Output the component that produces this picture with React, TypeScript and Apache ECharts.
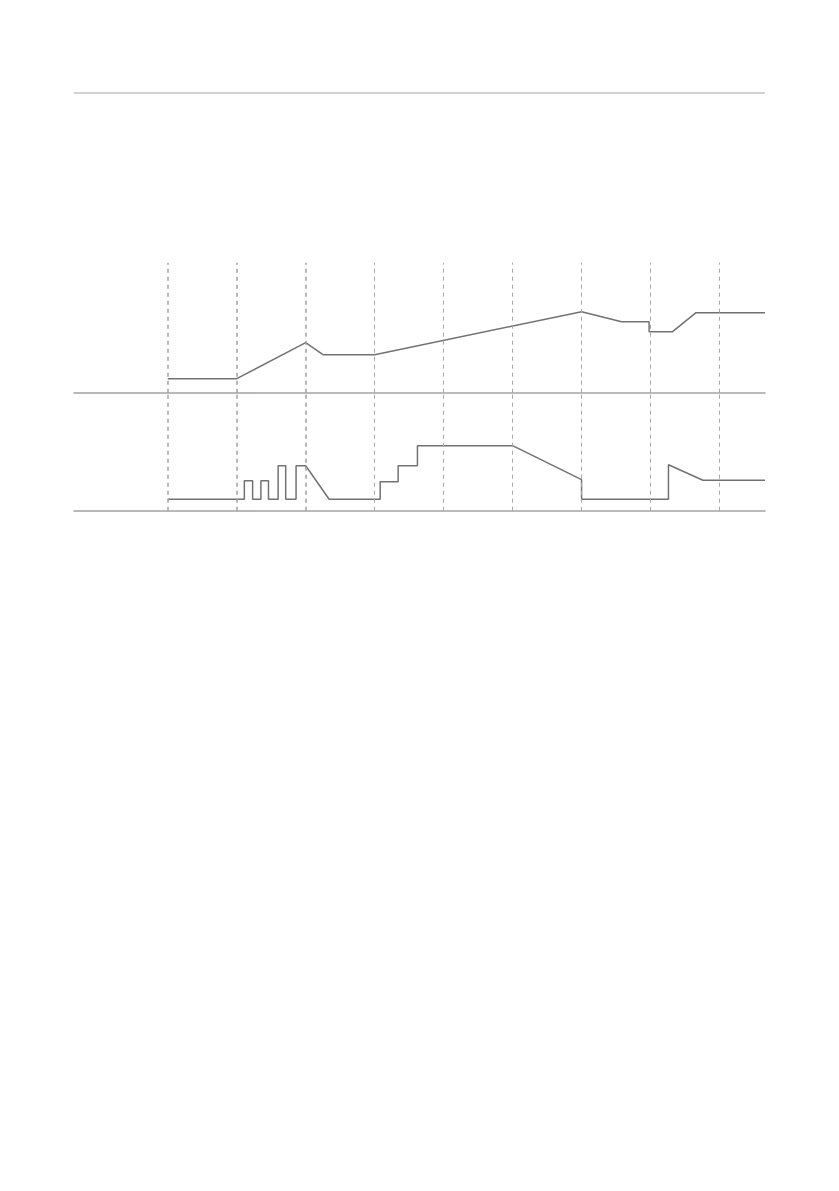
import { useEffect, useRef } from "react";
import * as echarts from "echarts";

// time axis: dashed guides sit at whole units 1..9
const guideTimes = [1, 2, 3, 4, 5, 6, 7, 8, 9];
const xMin = -0.36;
const xMax = 9.66;

// upper trace [time, level]
const upperTrace: [number, number][] = [
  [1.0, 14],
  [2.0, 14],
  [3.0, 50],
  [3.25, 38],
  [4.0, 38],
  [7.0, 81],
  [7.58, 71],
  [7.98, 71],
  [7.98, 61],
  [8.32, 61],
  [8.66, 80],
  [9.66, 80],
];

// lower trace [time, level]
const lowerTrace: [number, number][] = [
  [1.0, 11.5],
  [2.11, 11.5],
  [2.11, 30],
  [2.23, 30],
  [2.23, 11.5],
  [2.35, 11.5],
  [2.35, 30],
  [2.46, 30],
  [2.46, 11.5],
  [2.6, 11.5],
  [2.6, 45],
  [2.71, 45],
  [2.71, 11.5],
  [2.86, 11.5],
  [2.86, 45],
  [3.0, 45],
  [3.34, 11.5],
  [4.08, 11.5],
  [4.08, 29],
  [4.34, 29],
  [4.34, 45],
  [4.62, 45],
  [4.62, 65],
  [6.0, 65],
  [7.0, 31],
  [7.0, 11.5],
  [8.26, 11.5],
  [8.26, 46],
  [8.76, 30.5],
  [9.66, 30.5],
];

export default function App() {
  const ref = useRef<HTMLDivElement>(null);

  useEffect(() => {
    if (!ref.current) return;
    const chart = echarts.init(ref.current, null, { renderer: "svg" });

    const guides = guideTimes.map((t) => ({
      xAxis: t,
      lineStyle: {
        color: t <= 3 ? "#a0a0a0" : "#a8a8a8",
        width: t <= 3 ? 1.5 : 1,
        type: [4, 4] as number[],
      },
    }));

    const xAxisBase = {
      type: "value" as const,
      min: xMin,
      max: xMax,
      axisLine: { show: true, onZero: false, lineStyle: { color: "#a3a3a3", width: 1.5 } },
      axisTick: { show: false },
      axisLabel: { show: false },
      splitLine: { show: false },
    };
    const yAxisBase = {
      type: "value" as const,
      min: 0,
      axisLine: { show: false },
      axisTick: { show: false },
      axisLabel: { show: false },
      splitLine: { show: false },
    };

    chart.setOption({
      animation: false,
      backgroundColor: "#ffffff",
      grid: [
        { left: 74, right: 74, top: 262.7, height: 130 },
        { left: 74, right: 74, top: 392.7, height: 118 },
      ],
      xAxis: [
        { ...xAxisBase, gridIndex: 0 },
        { ...xAxisBase, gridIndex: 1 },
      ],
      yAxis: [
        { ...yAxisBase, gridIndex: 0, max: 130 },
        { ...yAxisBase, gridIndex: 1, max: 118 },
      ],
      graphic: [
        {
          type: "line",
          shape: { x1: 74, y1: 93, x2: 765, y2: 93 },
          style: { stroke: "#a3a3a3", lineWidth: 1.2 },
        },
      ],
      series: [
        {
          type: "line",
          xAxisIndex: 0,
          yAxisIndex: 0,
          data: upperTrace,
          showSymbol: false,
          lineStyle: { color: "#727272", width: 1.5 },
          markLine: {
            silent: true,
            symbol: "none",
            label: { show: false },
            data: guides,
          },
          z: 3,
        },
        {
          type: "line",
          xAxisIndex: 1,
          yAxisIndex: 1,
          data: lowerTrace,
          showSymbol: false,
          lineStyle: { color: "#727272", width: 1.5 },
          markLine: {
            silent: true,
            symbol: "none",
            label: { show: false },
            data: guides,
          },
          z: 3,
        },
      ],
    });

    return () => chart.dispose();
  }, []);

  return (
    <div
      ref={ref}
      style={{ position: "fixed", left: 0, top: 0, width: 839, height: 1191 }}
    />
  );
}
